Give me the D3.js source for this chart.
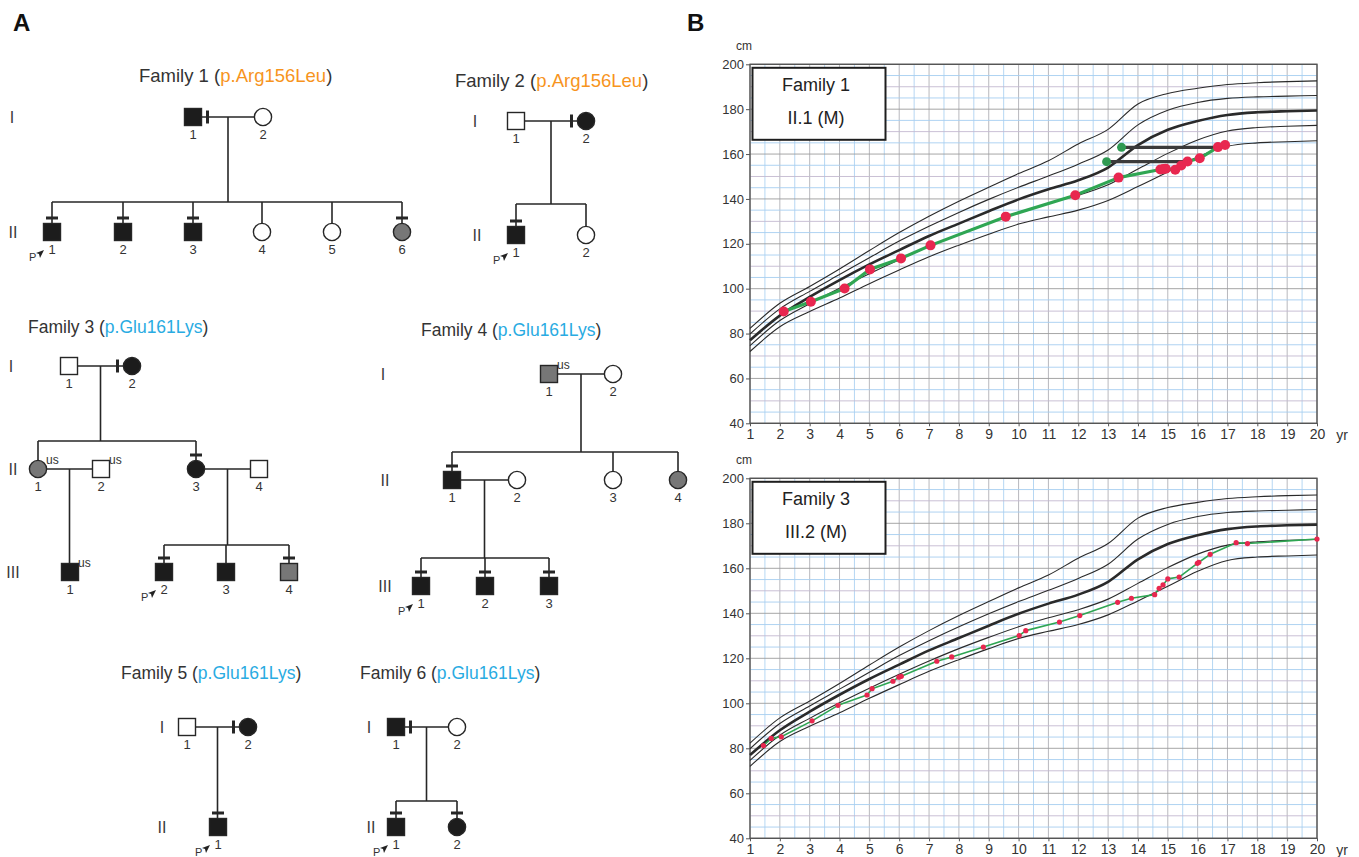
<!DOCTYPE html>
<html>
<head>
<meta charset="utf-8">
<script src="https://cdn.jsdelivr.net/npm/d3@7"></script>
<style>
body { margin: 0; background: #fff; }
svg { display: block; }
</style>
</head>
<body>
<svg id="fig" width="1359" height="857"></svg>
<script>
// ---------- pedigree data ----------
var famNames = ["Family 1", "Family 2", "Family 3", "Family 4", "Family 5", "Family 6"];
var famMutations = ["p.Arg156Leu", "p.Arg156Leu", "p.Glu161Lys", "p.Glu161Lys", "p.Glu161Lys", "p.Glu161Lys"];

// sex: M/F, st: aff / mild / unaff, tick: side (on marriage line) / top (above symbol)
var fam1People = [
  {id: "I1", sex: "M", st: "aff", tick: "side", num: "1"},
  {id: "I2", sex: "F", st: "unaff", num: "2"},
  {id: "II1", sex: "M", st: "aff", tick: "top", num: "1", proband: true},
  {id: "II2", sex: "M", st: "aff", tick: "top", num: "2"},
  {id: "II3", sex: "M", st: "aff", tick: "top", num: "3"},
  {id: "II4", sex: "F", st: "unaff", num: "4"},
  {id: "II5", sex: "F", st: "unaff", num: "5"},
  {id: "II6", sex: "F", st: "mild", tick: "top", num: "6"}
];
var fam1Unions = [{a: "I1", b: "I2", kids: ["II1", "II2", "II3", "II4", "II5", "II6"]}];

var fam2People = [
  {id: "I1", sex: "M", st: "unaff", num: "1"},
  {id: "I2", sex: "F", st: "aff", tick: "side", num: "2"},
  {id: "II1", sex: "M", st: "aff", tick: "top", num: "1", proband: true},
  {id: "II2", sex: "F", st: "unaff", num: "2"}
];
var fam2Unions = [{a: "I1", b: "I2", kids: ["II1", "II2"]}];

var fam3People = [
  {id: "I1", sex: "M", st: "unaff", num: "1"},
  {id: "I2", sex: "F", st: "aff", tick: "side", num: "2"},
  {id: "II1", sex: "F", st: "mild", num: "1", us: true},
  {id: "II2", sex: "M", st: "unaff", num: "2", us: true},
  {id: "II3", sex: "F", st: "aff", tick: "top", num: "3"},
  {id: "II4", sex: "M", st: "unaff", num: "4"},
  {id: "III1", sex: "M", st: "aff", num: "1", us: true},
  {id: "III2", sex: "M", st: "aff", tick: "top", num: "2", proband: true},
  {id: "III3", sex: "M", st: "aff", num: "3"},
  {id: "III4", sex: "M", st: "mild", tick: "top", num: "4"}
];
var fam3Unions = [
  {a: "I1", b: "I2", kids: ["II1", "II3"]},
  {a: "II1", b: "II2", kids: ["III1"]},
  {a: "II3", b: "II4", kids: ["III2", "III3", "III4"]}
];

var fam4People = [
  {id: "I1", sex: "M", st: "mild", num: "1", us: true},
  {id: "I2", sex: "F", st: "unaff", num: "2"},
  {id: "II1", sex: "M", st: "aff", tick: "top", num: "1"},
  {id: "II2", sex: "F", st: "unaff", num: "2"},
  {id: "II3", sex: "F", st: "unaff", num: "3"},
  {id: "II4", sex: "F", st: "mild", num: "4"},
  {id: "III1", sex: "M", st: "aff", tick: "top", num: "1", proband: true},
  {id: "III2", sex: "M", st: "aff", tick: "top", num: "2"},
  {id: "III3", sex: "M", st: "aff", tick: "top", num: "3"}
];
var fam4Unions = [
  {a: "I1", b: "I2", kids: ["II1", "II3", "II4"]},
  {a: "II1", b: "II2", kids: ["III1", "III2", "III3"]}
];

var fam5People = [
  {id: "I1", sex: "M", st: "unaff", num: "1"},
  {id: "I2", sex: "F", st: "aff", tick: "side", num: "2"},
  {id: "II1", sex: "M", st: "aff", tick: "top", num: "1", proband: true}
];
var fam5Unions = [{a: "I1", b: "I2", kids: ["II1"]}];

var fam6People = [
  {id: "I1", sex: "M", st: "aff", tick: "side", num: "1"},
  {id: "I2", sex: "F", st: "unaff", num: "2"},
  {id: "II1", sex: "M", st: "aff", tick: "top", num: "1", proband: true},
  {id: "II2", sex: "F", st: "aff", tick: "top", num: "2"}
];
var fam6Unions = [{a: "I1", b: "I2", kids: ["II1", "II2"]}];

// ---------- growth chart data ----------
var ageTicks = [1, 2, 3, 4, 5, 6, 7, 8, 9, 10, 11, 12, 13, 14, 15, 16, 17, 18, 19, 20];
var cmTicks = [40, 60, 80, 100, 120, 140, 160, 180, 200];

var refAge = [1, 2, 3, 4, 5, 6, 7, 8, 9, 10, 11, 12, 13, 14, 15, 16, 17, 18, 19, 20];
var refPlus2 = [82.3, 93.5, 101, 108.8, 117, 125, 132.3, 139, 145.2, 151.3, 157, 164.5, 171, 182.3, 187, 189.3, 191, 191.8, 192.3, 192.6];
var refPlus1 = [79.8, 91, 98.8, 106.3, 113.8, 121.2, 127.8, 134, 139.8, 145.2, 150.2, 155.5, 161.8, 173, 179.5, 183, 184.8, 185.5, 185.8, 186.1];
var refMean = [77, 88, 96.3, 103.8, 110.8, 117.2, 123.5, 129, 134.5, 139.8, 144.3, 148.3, 154, 164, 170.8, 174.7, 177.4, 178.6, 179.1, 179.4];
var refMinus1 = [74.6, 85.8, 93.3, 100.2, 106.7, 112.9, 118.8, 124.3, 129.3, 134, 138, 141.6, 146.3, 153.3, 160.3, 166.3, 170.3, 171.8, 172.4, 172.8];
var refMinus2 = [72, 83, 89.8, 95.8, 102.2, 108.3, 114.2, 119.4, 124.3, 128.8, 132, 135, 139.3, 145.5, 152, 158.7, 163.5, 165, 165.5, 165.9];

// Family 1, II.1 (M)
var f1Age = [2.13, 3.04, 4.17, 5.02, 6.06, 7.05, 9.57, 11.9, 13.35, 14.75, 14.85, 14.93, 15.25, 15.45, 15.66, 16.07, 16.68, 16.92];
var f1Height = [89.8, 94.2, 100.1, 108.6, 113.5, 119.3, 132.1, 141.6, 149.5, 153.1, 153.3, 153.5, 153.0, 154.9, 156.7, 158.1, 163.1, 164.0];
var f1BoneAge = [12.95, 13.45];
var f1BoneChrono = [15.66, 16.68];
var f1BoneHeight = [156.6, 163.0];

// Family 3, III.2 (M)
var f3Age = [1.45, 1.71, 2.05, 3.08, 3.95, 4.92, 5.09, 5.79, 5.99, 6.07, 7.26, 7.76, 8.82, 10.02, 10.24, 11.37, 12.05, 13.32, 13.78, 14.56, 14.71, 14.84, 15.0, 15.38, 15.99, 16.04, 16.42, 17.29, 17.67, 20.0];
var f3Height = [81.2, 84.4, 85.1, 92.2, 99.1, 103.7, 106.5, 109.8, 111.6, 112.0, 118.7, 120.6, 125.0, 130.1, 132.3, 136.1, 139.0, 144.9, 146.7, 148.3, 151.1, 152.6, 155.3, 156.1, 162.2, 162.7, 166.2, 171.4, 171.0, 173.0];

// ---------- layout ----------
var fam1Pos = {I1: [193, 117], I2: [263, 117], II1: [52, 232], II2: [123, 232], II3: [193, 232], II4: [262, 232], II5: [332, 232], II6: [402, 232]};
var fam1Sib = [202];
var fam2Pos = {I1: [516, 121], I2: [586, 121], II1: [516, 235], II2: [586, 235]};
var fam2Sib = [204];
var fam3Pos = {I1: [69, 366], I2: [132, 366], II1: [38, 469], II2: [101, 469], II3: [196, 469], II4: [259, 469],
  III1: [70, 572], III2: [164, 572], III3: [226, 572], III4: [289, 572]};
var fam3Sib = [441, null, 545];
var fam4Pos = {I1: [549, 374], I2: [613, 374], II1: [452, 480], II2: [517, 480], II3: [613, 480], II4: [678, 480],
  III1: [421, 586], III2: [485, 586], III3: [549, 586]};
var fam4Sib = [452, 558];
var fam5Pos = {I1: [187, 727], I2: [248, 727], II1: [218, 827]};
var fam5Sib = [null];
var fam6Pos = {I1: [396, 727], I2: [457, 727], II1: [396, 827], II2: [457, 827]};
var fam6Sib = [801];

var titlePos = [[139, 82, 18.5], [455, 87, 18.5], [28, 333, 17.5], [421, 336, 17.5], [121, 679, 17.5], [360, 679, 17.5]];
var genPos = [
  [["I", 12, 117], ["II", 13, 232]],
  [["I", 475, 121], ["II", 477, 235]],
  [["I", 11, 366], ["II", 13, 469], ["III", 13, 572]],
  [["I", 383, 374], ["II", 385, 480], ["III", 385, 586]],
  [["I", 162, 727], ["II", 162, 827]],
  [["I", 369, 727], ["II", 371, 827]]
];

var svg = d3.select("#fig");
var ink = "#262626";
var SQ = 17, R = 8.6;
var fills = {aff: "#1c1c1c", mild: "#777777", unaff: "#ffffff"};
var narrow = "'Liberation Sans Narrow', 'Liberation Sans', Arial, sans-serif";
var sans = "'Liberation Sans', Arial, Helvetica, sans-serif";

svg.append("text").attr("x", 13).attr("y", 31).text("A")
  .attr("font-family", sans).attr("font-weight", "bold").attr("font-size", 24).attr("fill", "#111");
svg.append("text").attr("x", 687).attr("y", 31).text("B")
  .attr("font-family", sans).attr("font-weight", "bold").attr("font-size", 24).attr("fill", "#111");

function drawFamily(fi, people, unions, pos, sib) {
  var g = svg.append("g");
  var mutColor = fi < 2 ? "#f7941d" : "#29abe2";

  // title
  var t = g.append("text").attr("x", titlePos[fi][0]).attr("y", titlePos[fi][1])
    .attr("font-family", sans).attr("font-size", titlePos[fi][2]).attr("fill", "#333");
  t.append("tspan").text(famNames[fi] + " (");
  t.append("tspan").attr("fill", mutColor).text(famMutations[fi]);
  t.append("tspan").text(")");

  // generation labels
  genPos[fi].forEach(function (d) {
    g.append("text").attr("x", d[1]).attr("y", d[2]).attr("dy", "0.36em")
      .attr("text-anchor", "middle").attr("font-family", narrow).attr("font-size", 16)
      .attr("fill", "#3a3a3a").text(d[0]);
  });

  var byId = {};
  people.forEach(function (p) { byId[p.id] = p; });
  function half(p) { return p.sex === "M" ? SQ / 2 : R; }

  // lines
  unions.forEach(function (u, i) {
    var a = pos[u.a], b = pos[u.b];
    var left = a[0] < b[0] ? u.a : u.b, right = a[0] < b[0] ? u.b : u.a;
    var lx = pos[left][0] + half(byId[left]), rx = pos[right][0] - half(byId[right]);
    var my = a[1];
    g.append("line").attr("x1", lx).attr("x2", rx).attr("y1", my).attr("y2", my)
      .attr("stroke", ink).attr("stroke-width", 1.6);
    var dx = (a[0] + b[0]) / 2;
    var kids = u.kids;
    if (sib[i] == null) {
      var k = byId[kids[0]];
      var kp = pos[kids[0]];
      g.append("line").attr("x1", dx).attr("x2", dx).attr("y1", my).attr("y2", kp[1] - half(k))
        .attr("stroke", ink).attr("stroke-width", 1.6);
    } else {
      var sy = sib[i];
      g.append("line").attr("x1", dx).attr("x2", dx).attr("y1", my).attr("y2", sy)
        .attr("stroke", ink).attr("stroke-width", 1.6);
      var xs = kids.map(function (k) { return pos[k][0]; }).concat([dx]);
      g.append("line").attr("x1", d3.min(xs)).attr("x2", d3.max(xs)).attr("y1", sy).attr("y2", sy)
        .attr("stroke", ink).attr("stroke-width", 1.6);
      kids.forEach(function (k) {
        var kp = pos[k];
        g.append("line").attr("x1", kp[0]).attr("x2", kp[0]).attr("y1", sy).attr("y2", kp[1] - half(byId[k]))
          .attr("stroke", ink).attr("stroke-width", 1.6);
      });
    }
  });

  // partner lookup for side ticks
  function partnerOf(id) {
    for (var i = 0; i < unions.length; i++) {
      if (unions[i].a === id) return unions[i].b;
      if (unions[i].b === id) return unions[i].a;
    }
    return null;
  }

  people.forEach(function (p) {
    var c = pos[p.id], cx = c[0], cy = c[1];
    if (p.sex === "M") {
      g.append("rect").attr("x", cx - SQ / 2).attr("y", cy - SQ / 2).attr("width", SQ).attr("height", SQ)
        .attr("fill", fills[p.st]).attr("stroke", ink).attr("stroke-width", 1.4);
    } else {
      g.append("circle").attr("cx", cx).attr("cy", cy).attr("r", R)
        .attr("fill", fills[p.st]).attr("stroke", ink).attr("stroke-width", 1.4);
    }
    if (p.tick === "top") {
      g.append("rect").attr("x", cx - 6).attr("y", cy - 15.5).attr("width", 12).attr("height", 3).attr("fill", ink);
    } else if (p.tick === "side") {
      var other = pos[partnerOf(p.id)];
      var sx = other[0] > cx ? cx + 14.5 : cx - 14.5;
      g.append("rect").attr("x", sx - 1.5).attr("y", cy - 6.5).attr("width", 3).attr("height", 13).attr("fill", ink);
    }
    g.append("text").attr("x", cx).attr("y", cy + 22).attr("text-anchor", "middle")
      .attr("font-family", narrow).attr("font-size", 13).attr("fill", "#333").text(p.num);
    if (p.us) {
      g.append("text").attr("x", cx + 8).attr("y", cy - 5).attr("font-family", narrow)
        .attr("font-size", 12).attr("fill", "#333").text("us");
    }
    if (p.proband) {
      g.append("text").attr("x", cx - 23).attr("y", cy + 29).attr("font-family", sans)
        .attr("font-size", 11).attr("fill", "#333").text("P");
      g.append("path")
        .attr("d", "M" + (cx - 8) + "," + (cy + 18) + "L" + (cx - 16) + "," + (cy + 21) +
          "L" + (cx - 13) + "," + (cy + 22) + "L" + (cx - 12) + "," + (cy + 26) + "Z")
        .attr("fill", "#222");
    }
  });
}

drawFamily(0, fam1People, fam1Unions, fam1Pos, fam1Sib);
drawFamily(1, fam2People, fam2Unions, fam2Pos, fam2Sib);
drawFamily(2, fam3People, fam3Unions, fam3Pos, fam3Sib);
drawFamily(3, fam4People, fam4Unions, fam4Pos, fam4Sib);
drawFamily(4, fam5People, fam5Unions, fam5Pos, fam5Sib);
drawFamily(5, fam6People, fam6Unions, fam6Pos, fam6Sib);

// ---------- growth charts ----------
var refCurves = [refPlus2, refPlus1, refMean, refMinus1, refMinus2];

function drawGrowth(top, bottom, title, subtitle, ages, heights, big, bone) {
  var g = svg.append("g");
  var x = d3.scaleLinear().domain([1, 20]).range([750, 1317]);
  var y = d3.scaleLinear().domain([40, 200]).range([bottom, top]);

  // grid
  d3.range(1, 20.001, 0.5).forEach(function (a) {
    var whole = Math.abs(a - Math.round(a)) < 1e-6;
    g.append("line").attr("x1", x(a)).attr("x2", x(a)).attr("y1", y(40)).attr("y2", y(200))
      .attr("stroke", whole ? "#b0b0b6" : "#aed3f2").attr("stroke-width", 0.9);
  });
  d3.range(40, 200.001, 5).forEach(function (c) {
    var col = c % 20 === 0 ? "#9c9c9c" : (c % 10 === 0 ? "#c4b9d0" : "#a6cef0");
    g.append("line").attr("x1", x(1)).attr("x2", x(20)).attr("y1", y(c)).attr("y2", y(c))
      .attr("stroke", col).attr("stroke-width", 0.9);
  });
  g.append("rect").attr("x", x(1)).attr("y", y(200)).attr("width", x(20) - x(1)).attr("height", y(40) - y(200))
    .attr("fill", "none").attr("stroke", "#555").attr("stroke-width", 1.4);

  // axes
  var ya = g.append("g").attr("transform", "translate(" + x(1) + ",0)")
    .call(d3.axisLeft(y).tickValues(cmTicks).tickSize(4).tickPadding(2));
  ya.select(".domain").remove();
  ya.selectAll("line").attr("stroke", "#555");
  ya.selectAll("text").attr("font-family", narrow).attr("font-size", 13).attr("fill", "#333");
  var xa = g.append("g").attr("transform", "translate(0," + y(40) + ")")
    .call(d3.axisBottom(x).tickValues(ageTicks).tickSize(3).tickPadding(3));
  xa.select(".domain").remove();
  xa.selectAll("line").attr("stroke", "#555");
  xa.selectAll("text").attr("font-family", narrow).attr("font-size", 14).attr("fill", "#333");
  g.append("text").attr("x", 744).attr("y", top - 14).attr("text-anchor", "middle")
    .attr("font-family", narrow).attr("font-size", 12).attr("fill", "#333").text("cm");
  g.append("text").attr("x", 1342).attr("y", bottom + 17).attr("text-anchor", "middle")
    .attr("font-family", narrow).attr("font-size", 14).attr("fill", "#333").text("yr");

  // reference curves
  var refLine = d3.line().x(function (d, i) { return x(refAge[i]); }).y(function (d) { return y(d); })
    .curve(d3.curveMonotoneX);
  refCurves.forEach(function (c, i) {
    g.append("path").attr("d", refLine(c)).attr("fill", "none").attr("stroke", "#2a2a2a")
      .attr("stroke-width", i === 2 ? 2.6 : 1.1);
  });

  // label box
  g.append("rect").attr("x", 752.5).attr("y", top + 3.5).attr("width", 133).attr("height", 72)
    .attr("fill", "#fff").attr("stroke", "#1e1e1e").attr("stroke-width", 2);
  g.append("text").attr("x", 816).attr("y", top + 20).attr("dy", "0.35em").attr("text-anchor", "middle")
    .attr("font-family", sans).attr("font-size", 18).attr("fill", "#222").text(title);
  g.append("text").attr("x", 816).attr("y", top + 53).attr("dy", "0.35em").attr("text-anchor", "middle")
    .attr("font-family", sans).attr("font-size", 18).attr("fill", "#222").text(subtitle);

  // bone age bars
  if (bone) {
    bone.age.forEach(function (b, i) {
      g.append("line").attr("x1", x(b)).attr("x2", x(bone.chrono[i]))
        .attr("y1", y(bone.height[i])).attr("y2", y(bone.height[i]))
        .attr("stroke", "#3b3b3b").attr("stroke-width", 3.2);
    });
  }

  // patient line and points
  var pts = ages.map(function (a, i) { return [a, heights[i]]; });
  var pLine = d3.line().x(function (d) { return x(d[0]); }).y(function (d) { return y(d[1]); });
  g.append("path").attr("d", pLine(pts)).attr("fill", "none").attr("stroke", "#2fa653")
    .attr("stroke-width", big ? 3.2 : 1.6).attr("stroke-linejoin", "round");
  g.selectAll("circle.pt").data(pts).enter().append("circle").attr("class", "pt")
    .attr("cx", function (d) { return x(d[0]); }).attr("cy", function (d) { return y(d[1]); })
    .attr("r", big ? 5 : 2.6).attr("fill", "#e8274f");

  if (bone) {
    g.selectAll("circle.bone").data(bone.age).enter().append("circle").attr("class", "bone")
      .attr("cx", function (d) { return x(d); }).attr("cy", function (d, i) { return y(bone.height[i]); })
      .attr("r", 4.5).attr("fill", "#2f9a52");
  }
}

drawGrowth(64.3, 423.3, "Family 1", "II.1 (M)", f1Age, f1Height, true,
  {age: f1BoneAge, chrono: f1BoneChrono, height: f1BoneHeight});
drawGrowth(478.3, 838.3, "Family 3", "III.2 (M)", f3Age, f3Height, false, null);
</script>
</body>
</html>
